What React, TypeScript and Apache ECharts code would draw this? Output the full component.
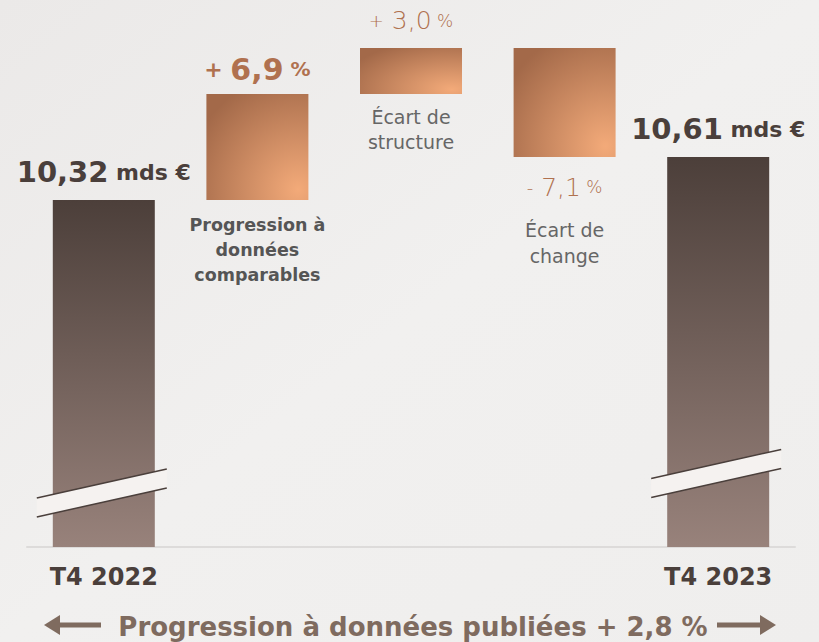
import React, { useEffect, useRef } from "react";
import * as echarts from "echarts";

const categories = ["T4 2022", "Progression à données comparables", "Écart de structure", "Écart de change", "T4 2023"];
const revenueLabels = ["10,32", "10,61"]; // mds €
const startIndex = 100; // T4 2022 = 100
const changes = [6.9, 3.0, -7.1]; // %
const changeLabels = ["6,9", "3,0", "7,1"];
const publishedGrowth = "2,8";
const breakLevels = [80.92, 82.19];

const FONT = "DejaVu Sans";
const DARK = "#4a3f3b";
const COPPER = "#b0714f";
const GREY = "#666666";

export default function App() {
  const ref = useRef<HTMLDivElement>(null);
  useEffect(() => {
    document.body.style.margin = "0";
    const chart = echarts.init(ref.current!, null, { renderer: "svg" });

    const base: number[] = [0];
    const vis: number[] = [startIndex];
    let cur = startIndex;
    changes.forEach((c) => {
      if (c >= 0) {
        base.push(cur);
        vis.push(c);
      } else {
        base.push(cur + c);
        vis.push(-c);
      }
      cur += c;
    });
    base.push(0);
    vis.push(cur);
    const maxTop = Math.max(...vis.map((v, i) => v + base[i]));

    const tallColor = new echarts.graphic.LinearGradient(0, 0, 0, 1, [
      { offset: 0, color: "#4c3f3a" },
      { offset: 1, color: "#98827b" },
    ]);
    const copper = new echarts.graphic.RadialGradient(0.9, 0.9, 1.1, [
      { offset: 0, color: "#f3aa79" },
      { offset: 0.45, color: "#cf8d64" },
      { offset: 1, color: "#a36949" },
    ]);

    const bigRich = {
      n: { fontFamily: FONT, fontSize: 29, fontWeight: "bold", color: DARK, lineHeight: 34 },
      u: { fontFamily: FONT, fontSize: 22, fontWeight: "bold", color: DARK, lineHeight: 34 },
    };
    const pctRich = (bold: boolean, numSize: number) => ({
      s: { fontFamily: FONT, fontSize: bold ? 22 : 18, fontWeight: bold ? "bold" : 300, color: COPPER, lineHeight: numSize + 4 },
      n: { fontFamily: FONT, fontSize: numSize, fontWeight: bold ? "bold" : 300, color: COPPER, lineHeight: numSize + 4 },
      p: { fontFamily: FONT, fontSize: bold ? 20 : 17, fontWeight: bold ? "bold" : 300, color: COPPER, lineHeight: numSize + 4 },
    });
    const sign = (c: number) => (c >= 0 ? "+" : "-");

    const visData = vis.map((v, i) => {
      const isTall = i === 0 || i === 4;
      const item: any = { value: v, itemStyle: { color: isTall ? tallColor : copper } };
      if (isTall) {
        item.label = {
          show: true,
          position: "top",
          distance: 11,
          formatter: `{n|${revenueLabels[i === 0 ? 0 : 1]}}{u| mds €}`,
          rich: bigRich,
        };
      } else if (i === 1) {
        item.label = {
          show: true,
          position: "top",
          distance: 8,
          formatter: `{s|${sign(changes[0])} }{n|${changeLabels[0]}}{p| %}`,
          rich: pctRich(true, 30),
        };
      } else if (i === 2) {
        item.label = {
          show: true,
          position: "top",
          distance: 13,
          formatter: `{s|${sign(changes[1])}}{n| ${changeLabels[1]}}{p| %}`,
          rich: pctRich(false, 25),
        };
      }
      return item;
    });

    const greyRich = {
      g: { fontFamily: FONT, fontSize: 19, fontWeight: "normal", color: GREY, lineHeight: 25 },
    };
    const baseData = base.map((b, i) => {
      const item: any = { value: b, itemStyle: { color: "transparent" } };
      if (i === 1) {
        item.label = {
          show: true,
          position: "insideTop",
          distance: 12,
          formatter: "{b|Progression à}\n{b|données}\n{b|comparables}",
          rich: { b: { fontFamily: FONT, fontSize: 17.5, fontWeight: "bold", color: "#555555", lineHeight: 25 } },
        };
      } else if (i === 2) {
        item.label = {
          show: true,
          position: "insideTop",
          distance: 10,
          formatter: "{g|Écart de}\n{g|structure}",
          rich: greyRich,
        };
      } else if (i === 3) {
        item.label = {
          show: true,
          position: "insideTop",
          distance: 0,
          formatter: `{s|${sign(changes[2])}}{n| ${changeLabels[2]}}{p| %}\n{g|Écart de}\n{g|change}`,
          rich: {
            s: { fontFamily: FONT, fontSize: 18, fontWeight: 300, color: COPPER, lineHeight: 60 },
            n: { fontFamily: FONT, fontSize: 25, fontWeight: 300, color: COPPER, lineHeight: 60 },
            p: { fontFamily: FONT, fontSize: 17, fontWeight: 300, color: COPPER, lineHeight: 60 },
            g: { fontFamily: FONT, fontSize: 19, fontWeight: "normal", color: GREY, lineHeight: 26 },
          },
        };
      }
      return item;
    });

    chart.setOption({
      animation: false,
      backgroundColor: new echarts.graphic.LinearGradient(0, 0, 1, 1, [
        { offset: 0, color: "#ebe9e8" },
        { offset: 0.5, color: "#f1f0ef" },
        { offset: 1, color: "#efeeed" },
      ]),
      grid: { left: 27, right: 24, top: 48, bottom: 95 },
      xAxis: {
        type: "category",
        data: categories,
        axisLine: { show: true, lineStyle: { color: "#dddbda", width: 2 } },
        axisTick: { show: false },
        axisLabel: {
          interval: 0,
          margin: 18,
          fontFamily: FONT,
          fontSize: 24,
          fontWeight: "bold",
          color: DARK,
          formatter: (v: string, i: number) => (i === 0 || i === categories.length - 1 ? v : ""),
        },
      },
      yAxis: {
        type: "value",
        min: 77.4,
        max: maxTop,
        show: false,
        splitLine: { show: false },
      },
      series: [
        { type: "bar", stack: "w", barWidth: 102, data: baseData, silent: true },
        { type: "bar", stack: "w", barWidth: 102, data: visData },
        {
          type: "custom",
          z: 10,
          data: [
            [0, breakLevels[0]],
            [4, breakLevels[1]],
          ],
          renderItem: (params: any, api: any) => {
            const c = api.coord([api.value(0), api.value(1)]);
            const hw = 65, sl = 14.5, t = 9.5;
            const x0 = c[0] - 2 - hw, x1 = c[0] - 2 + hw;
            return {
              type: "group",
              children: [
                {
                  type: "polygon",
                  shape: { points: [[x0, c[1] + sl - t], [x1, c[1] - sl - t], [x1, c[1] - sl + t], [x0, c[1] + sl + t]] },
                  style: { fill: "#f5f2f0" },
                },
                { type: "line", shape: { x1: x0, y1: c[1] + sl - t, x2: x1, y2: c[1] - sl - t }, style: { stroke: DARK, lineWidth: 1.5 } },
                { type: "line", shape: { x1: x0, y1: c[1] + sl + t, x2: x1, y2: c[1] - sl + t }, style: { stroke: DARK, lineWidth: 1.5 } },
              ],
            };
          },
        },
      ],
      graphic: [
        {
          type: "text",
          x: 413,
          y: 627,
          style: {
            text: `Progression à données publiées + ${publishedGrowth} %`,
            fontFamily: FONT,
            fontSize: 26,
            fontWeight: "bold",
            fill: "#7f6b5f",
            align: "center",
            verticalAlign: "middle",
          },
        },
        { type: "line", shape: { x1: 52, y1: 625, x2: 101, y2: 625 }, style: { stroke: "#7f6b5f", lineWidth: 5 } },
        { type: "polygon", shape: { points: [[44, 625], [60, 615], [60, 635]] }, style: { fill: "#7f6b5f" } },
        { type: "line", shape: { x1: 717, y1: 625, x2: 768, y2: 625 }, style: { stroke: "#7f6b5f", lineWidth: 5 } },
        { type: "polygon", shape: { points: [[776, 625], [760, 615], [760, 635]] }, style: { fill: "#7f6b5f" } },
      ],
    });
    return () => chart.dispose();
  }, []);
  return <div ref={ref} style={{ width: 819, height: 642 }} />;
}
